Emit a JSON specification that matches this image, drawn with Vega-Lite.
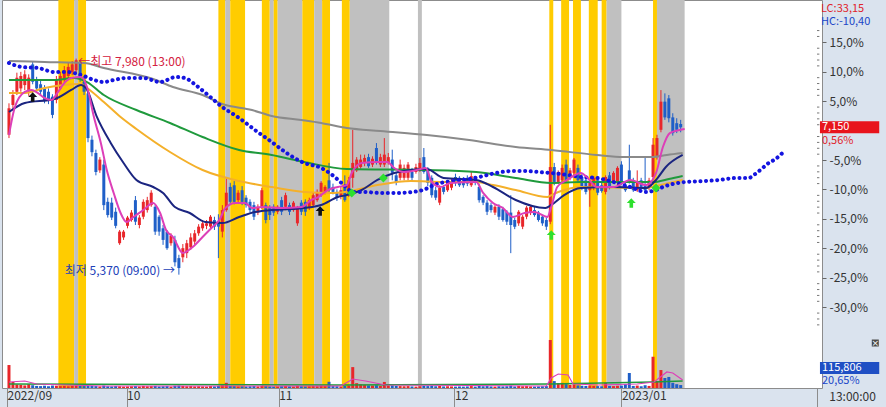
{
"$schema":"https://vega.github.io/schema/vega-lite/v6.json",
"width":820,"height":388,
"autosize":{"type":"none"},
"padding":{"left":2,"top":0,"right":64,"bottom":19},
"background":"#dae3ee",
"config":{"view":{"fill":"#ffffff","stroke":"#8c8c8c","strokeWidth":1},"font":"Noto Sans CJK KR","axis":{"grid":false,"labelFont":"Noto Sans CJK KR"}},
"datasets":{
"bands":[{"a":12.5,"b":16.5,"k":"o"},{"a":16.5,"b":17.5,"k":"g"},{"a":17.5,"b":19.5,"k":"o"},{"a":53,"b":54.75,"k":"o"},{"a":54.75,"b":56,"k":"g"},{"a":56,"b":59.75,"k":"o"},{"a":64,"b":66,"k":"o"},{"a":66,"b":67,"k":"g"},{"a":67,"b":68,"k":"o"},{"a":68,"b":74.25,"k":"g"},{"a":74.25,"b":77.25,"k":"o"},{"a":77.25,"b":79.25,"k":"g"},{"a":79.25,"b":81.25,"k":"o"},{"a":84.25,"b":86.25,"k":"o"},{"a":86.25,"b":96.25,"k":"g"},{"a":103.5,"b":104.5,"k":"g"},{"a":136.75,"b":137.75,"k":"o"},{"a":139.75,"b":141.75,"k":"o"},{"a":142.75,"b":144.75,"k":"o"},{"a":146.75,"b":149,"k":"o"},{"a":150,"b":151.25,"k":"o"},{"a":151.25,"b":155,"k":"g"},{"a":163,"b":164,"k":"o"},{"a":164,"b":171,"k":"g"}],
"candles":[
{"t":0,"o":7060,"h":7440,"l":7020,"c":7380,"v":133000},
{"t":1,"o":7420,"h":7600,"l":7380,"c":7540,"v":35000},
{"t":2,"o":7580,"h":7810,"l":7540,"c":7750,"v":20000},
{"t":3,"o":7620,"h":7820,"l":7580,"c":7770,"v":18000},
{"t":4,"o":7660,"h":7840,"l":7600,"c":7790,"v":15000},
{"t":5,"o":7580,"h":7790,"l":7530,"c":7750,"v":22000},
{"t":6,"o":7910,"h":7940,"l":7670,"c":7700,"v":16000},
{"t":7,"o":7720,"h":7760,"l":7580,"c":7620,"v":12000},
{"t":8,"o":7670,"h":7720,"l":7540,"c":7580,"v":11000},
{"t":9,"o":7620,"h":7660,"l":7440,"c":7480,"v":13000},
{"t":10,"o":7580,"h":7620,"l":7430,"c":7480,"v":10000},
{"t":11,"o":7520,"h":7550,"l":7260,"c":7300,"v":14000},
{"t":12,"o":7480,"h":7770,"l":7440,"c":7720,"v":13000},
{"t":13,"o":7620,"h":7820,"l":7600,"c":7770,"v":11000},
{"t":14,"o":7720,"h":7890,"l":7690,"c":7840,"v":12000},
{"t":15,"o":7770,"h":7930,"l":7730,"c":7880,"v":10000},
{"t":16,"o":7820,"h":7950,"l":7780,"c":7910,"v":12000},
{"t":17,"o":7840,"h":7980,"l":7810,"c":7960,"v":14000},
{"t":18,"o":7940,"h":7960,"l":7700,"c":7750,"v":12000},
{"t":19,"o":7700,"h":7770,"l":7540,"c":7580,"v":11000},
{"t":20,"o":7560,"h":7600,"l":6970,"c":7020,"v":13000},
{"t":21,"o":7000,"h":7050,"l":6800,"c":6850,"v":12000},
{"t":22,"o":6840,"h":6880,"l":6570,"c":6610,"v":11000},
{"t":23,"o":6630,"h":6790,"l":6600,"c":6760,"v":9000},
{"t":24,"o":6700,"h":6760,"l":6150,"c":6210,"v":14000},
{"t":25,"o":6250,"h":6300,"l":6060,"c":6090,"v":10000},
{"t":26,"o":6240,"h":6300,"l":6030,"c":6060,"v":9000},
{"t":27,"o":6130,"h":6180,"l":5930,"c":5960,"v":11000},
{"t":28,"o":5750,"h":5910,"l":5730,"c":5890,"v":10000},
{"t":29,"o":5820,"h":5910,"l":5790,"c":5890,"v":8000},
{"t":30,"o":5960,"h":6080,"l":5930,"c":6060,"v":9000},
{"t":31,"o":6030,"h":6150,"l":6010,"c":6120,"v":10000},
{"t":32,"o":6270,"h":6320,"l":5970,"c":6010,"v":11000},
{"t":33,"o":5970,"h":6090,"l":5930,"c":6060,"v":9000},
{"t":34,"o":6070,"h":6280,"l":6040,"c":6250,"v":12000},
{"t":35,"o":6150,"h":6310,"l":6120,"c":6270,"v":10000},
{"t":36,"o":6210,"h":6390,"l":6190,"c":6360,"v":11000},
{"t":37,"o":6190,"h":6210,"l":5850,"c":5890,"v":12000},
{"t":38,"o":6070,"h":6090,"l":5840,"c":5890,"v":9000},
{"t":39,"o":5930,"h":5970,"l":5730,"c":5790,"v":10000},
{"t":40,"o":5890,"h":5910,"l":5670,"c":5690,"v":11000},
{"t":41,"o":5750,"h":5870,"l":5720,"c":5840,"v":8000},
{"t":42,"o":5790,"h":5840,"l":5470,"c":5520,"v":13000},
{"t":43,"o":5570,"h":5610,"l":5370,"c":5450,"v":14000},
{"t":44,"o":5580,"h":5740,"l":5520,"c":5690,"v":12000},
{"t":45,"o":5630,"h":5790,"l":5570,"c":5750,"v":10000},
{"t":46,"o":5700,"h":5870,"l":5670,"c":5820,"v":11000},
{"t":47,"o":5770,"h":5910,"l":5730,"c":5870,"v":9000},
{"t":48,"o":5870,"h":5980,"l":5840,"c":5950,"v":10000},
{"t":49,"o":5930,"h":6030,"l":5900,"c":5990,"v":9000},
{"t":50,"o":5960,"h":6030,"l":5920,"c":5990,"v":8000},
{"t":51,"o":5950,"h":6090,"l":5920,"c":6070,"v":11000},
{"t":52,"o":6030,"h":6070,"l":5910,"c":5950,"v":9000},
{"t":53,"o":6020,"h":6100,"l":5570,"c":5950,"v":12000},
{"t":54,"o":5890,"h":6210,"l":5820,"c":6150,"v":16000},
{"t":55,"o":6150,"h":6550,"l":6130,"c":6360,"v":30000},
{"t":56,"o":6430,"h":6480,"l":6210,"c":6250,"v":12000},
{"t":57,"o":6450,"h":6500,"l":6220,"c":6250,"v":11000},
{"t":58,"o":6270,"h":6390,"l":6240,"c":6360,"v":9000},
{"t":59,"o":6390,"h":6440,"l":6210,"c":6250,"v":10000},
{"t":60,"o":6300,"h":6330,"l":6180,"c":6210,"v":9000},
{"t":61,"o":6250,"h":6280,"l":6120,"c":6150,"v":10000},
{"t":62,"o":6210,"h":6250,"l":6030,"c":6070,"v":11000},
{"t":63,"o":6120,"h":6220,"l":6090,"c":6190,"v":9000},
{"t":64,"o":6190,"h":6420,"l":6160,"c":6390,"v":13000},
{"t":65,"o":6210,"h":6240,"l":5990,"c":6030,"v":11000},
{"t":66,"o":6180,"h":6210,"l":6030,"c":6090,"v":9000},
{"t":67,"o":6190,"h":6220,"l":6080,"c":6120,"v":8000},
{"t":68,"o":6130,"h":6210,"l":6100,"c":6190,"v":9000},
{"t":69,"o":6270,"h":6310,"l":6090,"c":6130,"v":10000},
{"t":70,"o":6190,"h":6360,"l":6150,"c":6330,"v":11000},
{"t":71,"o":6210,"h":6240,"l":6090,"c":6130,"v":9000},
{"t":72,"o":6150,"h":6260,"l":6130,"c":6240,"v":8000},
{"t":73,"o":5990,"h":6200,"l":5960,"c":6180,"v":12000},
{"t":74,"o":6240,"h":6270,"l":6090,"c":6130,"v":10000},
{"t":75,"o":6250,"h":6280,"l":6080,"c":6130,"v":9000},
{"t":76,"o":6180,"h":6300,"l":6150,"c":6270,"v":10000},
{"t":77,"o":6210,"h":6360,"l":6190,"c":6330,"v":11000},
{"t":78,"o":6270,"h":6400,"l":6250,"c":6370,"v":10000},
{"t":79,"o":6330,"h":6500,"l":6310,"c":6480,"v":14000},
{"t":80,"o":6370,"h":6450,"l":6340,"c":6430,"v":12000},
{"t":81,"o":6510,"h":6720,"l":6370,"c":6390,"v":36000},
{"t":82,"o":6430,"h":6470,"l":6340,"c":6370,"v":11000},
{"t":83,"o":6370,"h":6400,"l":6260,"c":6300,"v":10000},
{"t":84,"o":6310,"h":6430,"l":6280,"c":6390,"v":9000},
{"t":85,"o":6450,"h":6570,"l":6250,"c":6270,"v":12000},
{"t":86,"o":6330,"h":6550,"l":6310,"c":6510,"v":14000},
{"t":87,"o":6540,"h":7120,"l":6420,"c":6720,"v":121000},
{"t":88,"o":6630,"h":6790,"l":6610,"c":6760,"v":28000},
{"t":89,"o":6670,"h":6820,"l":6650,"c":6760,"v":22000},
{"t":90,"o":6720,"h":6820,"l":6680,"c":6780,"v":18000},
{"t":91,"o":6790,"h":6830,"l":6660,"c":6680,"v":15000},
{"t":92,"o":6700,"h":6800,"l":6670,"c":6770,"v":14000},
{"t":93,"o":6900,"h":6960,"l":6700,"c":6720,"v":16000},
{"t":94,"o":6700,"h":6830,"l":6670,"c":6790,"v":12000},
{"t":95,"o":6700,"h":7020,"l":6670,"c":6820,"v":35000},
{"t":96,"o":6720,"h":6840,"l":6700,"c":6790,"v":14000},
{"t":97,"o":6760,"h":6880,"l":6510,"c":6600,"v":15000},
{"t":98,"o":6570,"h":6610,"l":6450,"c":6490,"v":12000},
{"t":99,"o":6540,"h":6760,"l":6510,"c":6700,"v":11000},
{"t":100,"o":6540,"h":6700,"l":6510,"c":6660,"v":10000},
{"t":101,"o":6540,"h":6730,"l":6510,"c":6700,"v":11000},
{"t":102,"o":6610,"h":6660,"l":6510,"c":6540,"v":9000},
{"t":103,"o":6610,"h":6710,"l":6590,"c":6670,"v":8000},
{"t":104,"o":6630,"h":6780,"l":6610,"c":6720,"v":10000},
{"t":105,"o":6790,"h":6900,"l":6590,"c":6610,"v":12000},
{"t":106,"o":6630,"h":6670,"l":6440,"c":6480,"v":11000},
{"t":107,"o":6540,"h":6570,"l":6300,"c":6330,"v":13000},
{"t":108,"o":6390,"h":6430,"l":6270,"c":6300,"v":10000},
{"t":109,"o":6240,"h":6450,"l":6210,"c":6420,"v":12000},
{"t":110,"o":6430,"h":6450,"l":6340,"c":6370,"v":9000},
{"t":111,"o":6390,"h":6500,"l":6370,"c":6480,"v":10000},
{"t":112,"o":6420,"h":6530,"l":6390,"c":6490,"v":9000},
{"t":113,"o":6550,"h":6590,"l":6440,"c":6480,"v":8000},
{"t":114,"o":6540,"h":6560,"l":6430,"c":6450,"v":9000},
{"t":115,"o":6510,"h":6550,"l":6420,"c":6450,"v":8000},
{"t":116,"o":6540,"h":6570,"l":6440,"c":6470,"v":9000},
{"t":117,"o":6450,"h":6610,"l":6430,"c":6560,"v":11000},
{"t":118,"o":6540,"h":6560,"l":6450,"c":6480,"v":8000},
{"t":119,"o":6430,"h":6470,"l":6240,"c":6270,"v":12000},
{"t":120,"o":6310,"h":6330,"l":6210,"c":6240,"v":10000},
{"t":121,"o":6240,"h":6270,"l":6090,"c":6130,"v":11000},
{"t":122,"o":6210,"h":6240,"l":6120,"c":6150,"v":9000},
{"t":123,"o":6120,"h":6210,"l":6090,"c":6190,"v":8000},
{"t":124,"o":6190,"h":6220,"l":6030,"c":6070,"v":10000},
{"t":125,"o":6160,"h":6190,"l":6010,"c":6030,"v":9000},
{"t":126,"o":6130,"h":6150,"l":5970,"c":6010,"v":10000},
{"t":127,"o":6120,"h":6330,"l":5630,"c":5970,"v":14000},
{"t":128,"o":6030,"h":6060,"l":5920,"c":5950,"v":9000},
{"t":129,"o":5990,"h":6150,"l":5960,"c":6130,"v":12000},
{"t":130,"o":5950,"h":6090,"l":5920,"c":6070,"v":10000},
{"t":131,"o":6070,"h":6200,"l":6040,"c":6180,"v":11000},
{"t":132,"o":6120,"h":6210,"l":6090,"c":6190,"v":9000},
{"t":133,"o":6150,"h":6190,"l":6070,"c":6090,"v":8000},
{"t":134,"o":6120,"h":6140,"l":6010,"c":6030,"v":9000},
{"t":135,"o":6070,"h":6090,"l":5960,"c":5990,"v":10000},
{"t":136,"o":6030,"h":6060,"l":5910,"c":5950,"v":11000},
{"t":137,"o":6010,"h":7180,"l":5980,"c":6670,"v":278000},
{"t":138,"o":6670,"h":6720,"l":6450,"c":6490,"v":40000},
{"t":139,"o":6490,"h":6630,"l":6470,"c":6610,"v":28000},
{"t":140,"o":6510,"h":6700,"l":6490,"c":6660,"v":30000},
{"t":141,"o":6700,"h":6760,"l":6490,"c":6510,"v":22000},
{"t":142,"o":6540,"h":6660,"l":6510,"c":6630,"v":18000},
{"t":143,"o":6600,"h":6780,"l":6570,"c":6760,"v":20000},
{"t":144,"o":6660,"h":6700,"l":6480,"c":6510,"v":15000},
{"t":145,"o":6550,"h":6590,"l":6390,"c":6420,"v":13000},
{"t":146,"o":6510,"h":6540,"l":6340,"c":6370,"v":12000},
{"t":147,"o":6390,"h":6500,"l":6190,"c":6480,"v":14000},
{"t":148,"o":6420,"h":6560,"l":6390,"c":6540,"v":12000},
{"t":149,"o":6510,"h":6550,"l":6330,"c":6360,"v":11000},
{"t":150,"o":6450,"h":6480,"l":6360,"c":6380,"v":10000},
{"t":151,"o":6370,"h":6570,"l":6340,"c":6550,"v":30000},
{"t":152,"o":6570,"h":6610,"l":6400,"c":6430,"v":12000},
{"t":153,"o":6500,"h":6620,"l":6480,"c":6600,"v":11000},
{"t":154,"o":6480,"h":6680,"l":6450,"c":6660,"v":13000},
{"t":155,"o":6700,"h":6740,"l":6450,"c":6480,"v":14000},
{"t":156,"o":6450,"h":6480,"l":6370,"c":6390,"v":22000},
{"t":157,"o":6630,"h":6940,"l":6470,"c":6490,"v":87000},
{"t":158,"o":6510,"h":6540,"l":6370,"c":6390,"v":12000},
{"t":159,"o":6390,"h":6630,"l":6370,"c":6480,"v":14000},
{"t":160,"o":6510,"h":6540,"l":6400,"c":6430,"v":10000},
{"t":161,"o":6450,"h":6790,"l":6370,"c":6390,"v":16000},
{"t":162,"o":6420,"h":6540,"l":6390,"c":6510,"v":12000},
{"t":163,"o":6550,"h":7020,"l":6510,"c":6940,"v":181000},
{"t":164,"o":6790,"h":7060,"l":6760,"c":7020,"v":40000},
{"t":165,"o":7120,"h":7600,"l":7090,"c":7460,"v":104000},
{"t":166,"o":7460,"h":7560,"l":7240,"c":7270,"v":58000},
{"t":167,"o":7500,"h":7540,"l":7210,"c":7260,"v":64000},
{"t":168,"o":7270,"h":7320,"l":7050,"c":7080,"v":30000},
{"t":169,"o":7200,"h":7260,"l":7080,"c":7120,"v":22000},
{"t":170,"o":7190,"h":7240,"l":7090,"c":7150,"v":17000}],
"maGray":[{"t":0,"p":7951},{"t":9,"p":7939},{"t":19,"p":7927},{"t":24,"p":7867},{"t":36.5,"p":7734},{"t":41.5,"p":7637},{"t":49,"p":7540},{"t":54,"p":7432},{"t":61.5,"p":7359},{"t":66.5,"p":7287},{"t":74,"p":7238},{"t":79,"p":7202},{"t":85.5,"p":7142},{"t":94,"p":7105},{"t":105.75,"p":7057},{"t":116.5,"p":6997},{"t":128.25,"p":6912},{"t":137.25,"p":6876},{"t":148.75,"p":6816},{"t":155.5,"p":6791},{"t":163,"p":6791},{"t":166.5,"p":6816},{"t":170.5,"p":6840}],
"maGreen":[{"t":0,"p":7722},{"t":11.5,"p":7722},{"t":16.5,"p":7746},{"t":19.75,"p":7697},{"t":24,"p":7540},{"t":32.25,"p":7359},{"t":40.75,"p":7202},{"t":49,"p":7033},{"t":58.25,"p":6876},{"t":66.5,"p":6816},{"t":74.75,"p":6731},{"t":85.5,"p":6647},{"t":105.75,"p":6634},{"t":118.25,"p":6610},{"t":128.25,"p":6538},{"t":137.25,"p":6477},{"t":144.75,"p":6489},{"t":163,"p":6489},{"t":167,"p":6526},{"t":170.5,"p":6562}],
"maOrange":[{"t":0,"p":7565},{"t":4,"p":7565},{"t":9,"p":7625},{"t":18.25,"p":7673},{"t":19.75,"p":7625},{"t":24,"p":7456},{"t":28.25,"p":7275},{"t":32.25,"p":7130},{"t":40.75,"p":6852},{"t":49,"p":6634},{"t":58.25,"p":6501},{"t":66.5,"p":6429},{"t":74.75,"p":6369},{"t":81.5,"p":6357},{"t":85,"p":6369},{"t":93.25,"p":6453},{"t":101.75,"p":6501},{"t":110,"p":6489},{"t":118.25,"p":6489},{"t":122.5,"p":6453},{"t":128.25,"p":6393},{"t":136.25,"p":6308},{"t":137.25,"p":6332},{"t":140.5,"p":6393},{"t":144.75,"p":6429},{"t":161.25,"p":6417},{"t":163.75,"p":6441},{"t":170.5,"p":6514}],
"maNavy":[{"t":0,"p":7335},{"t":4,"p":7444},{"t":11.5,"p":7492},{"t":15.75,"p":7601},{"t":18.25,"p":7661},{"t":19.5,"p":7625},{"t":22.25,"p":7275},{"t":25.75,"p":6961},{"t":29,"p":6719},{"t":32.25,"p":6514},{"t":36.5,"p":6429},{"t":39,"p":6357},{"t":42,"p":6187},{"t":45.75,"p":6115},{"t":49.75,"p":6006},{"t":54,"p":5994},{"t":58.25,"p":6067},{"t":62.25,"p":6127},{"t":66.5,"p":6151},{"t":74.75,"p":6175},{"t":79,"p":6212},{"t":83.25,"p":6308},{"t":85.5,"p":6332},{"t":89.25,"p":6393},{"t":93.25,"p":6514},{"t":97.5,"p":6598},{"t":101.75,"p":6634},{"t":105.75,"p":6646},{"t":110,"p":6538},{"t":118.25,"p":6514},{"t":122.5,"p":6429},{"t":128.25,"p":6272},{"t":135.75,"p":6175},{"t":137.25,"p":6212},{"t":140.5,"p":6332},{"t":144.75,"p":6417},{"t":153,"p":6429},{"t":161.25,"p":6417},{"t":163.75,"p":6514},{"t":166.25,"p":6671},{"t":170.5,"p":6816}],
"maMag":[{"t":0,"p":7057},{"t":1.5,"p":7395},{"t":4,"p":7577},{"t":5.75,"p":7601},{"t":7.25,"p":7565},{"t":9,"p":7504},{"t":10.75,"p":7480},{"t":12.25,"p":7565},{"t":14,"p":7685},{"t":15.75,"p":7746},{"t":18.25,"p":7758},{"t":19.75,"p":7637},{"t":21.5,"p":7275},{"t":23.25,"p":6961},{"t":24.75,"p":6634},{"t":26.5,"p":6357},{"t":28.25,"p":6115},{"t":29.75,"p":6006},{"t":31.5,"p":6067},{"t":34,"p":6151},{"t":36.5,"p":6236},{"t":38.25,"p":6115},{"t":39.75,"p":5910},{"t":41.5,"p":5825},{"t":44,"p":5632},{"t":46.5,"p":5704},{"t":49,"p":5825},{"t":51.5,"p":5946},{"t":53.25,"p":6030},{"t":54.75,"p":6175},{"t":57.25,"p":6236},{"t":59.75,"p":6236},{"t":61.5,"p":6175},{"t":64,"p":6187},{"t":69,"p":6175},{"t":74,"p":6187},{"t":76.5,"p":6272},{"t":78.25,"p":6308},{"t":80.75,"p":6393},{"t":83.25,"p":6429},{"t":85.5,"p":6453},{"t":86.75,"p":6598},{"t":89.25,"p":6719},{"t":93.25,"p":6731},{"t":95.75,"p":6731},{"t":97.5,"p":6659},{"t":100,"p":6610},{"t":103.25,"p":6634},{"t":105.5,"p":6659},{"t":107,"p":6489},{"t":109.25,"p":6429},{"t":111.75,"p":6477},{"t":118.25,"p":6489},{"t":120,"p":6357},{"t":122.5,"p":6236},{"t":125,"p":6175},{"t":127.5,"p":6067},{"t":130.5,"p":6115},{"t":133,"p":6127},{"t":136.25,"p":6067},{"t":137.25,"p":6187},{"t":138.75,"p":6429},{"t":141.25,"p":6514},{"t":144.75,"p":6598},{"t":146.25,"p":6550},{"t":148.75,"p":6429},{"t":153,"p":6429},{"t":157.25,"p":6514},{"t":161.25,"p":6453},{"t":163.75,"p":6598},{"t":165.5,"p":6912},{"t":167.25,"p":7081},{"t":169.75,"p":7118},{"t":171,"p":7130}],
"ichi":[{"t":0,"p":7927},{"t":3.25,"p":7879},{"t":7.25,"p":7867},{"t":11.5,"p":7818},{"t":14.75,"p":7818},{"t":18.25,"p":7782},{"t":21.5,"p":7722},{"t":24,"p":7697},{"t":26.5,"p":7722},{"t":29.75,"p":7746},{"t":34,"p":7746},{"t":38.25,"p":7697},{"t":42.25,"p":7758},{"t":44.5,"p":7746},{"t":47.25,"p":7661},{"t":49.75,"p":7565},{"t":54,"p":7395},{"t":58.25,"p":7263},{"t":62.25,"p":7118},{"t":66.5,"p":6973},{"t":70.25,"p":6840},{"t":74.75,"p":6719},{"t":79,"p":6659},{"t":81.5,"p":6586},{"t":84.75,"p":6453},{"t":87,"p":6369},{"t":89.75,"p":6369},{"t":94,"p":6357},{"t":98.25,"p":6357},{"t":102.25,"p":6369},{"t":104.75,"p":6393},{"t":108.25,"p":6465},{"t":112.25,"p":6501},{"t":116.5,"p":6526},{"t":119,"p":6550},{"t":123.25,"p":6598},{"t":127.25,"p":6622},{"t":130.75,"p":6622},{"t":134,"p":6610},{"t":137.25,"p":6598},{"t":141.5,"p":6574},{"t":144.75,"p":6550},{"t":148.75,"p":6538},{"t":153,"p":6489},{"t":157.25,"p":6429},{"t":161.25,"p":6369},{"t":163.75,"p":6393},{"t":165.5,"p":6429},{"t":168,"p":6465},{"t":171,"p":6489},{"t":175.75,"p":6501},{"t":179.75,"p":6514},{"t":184,"p":6538},{"t":187.25,"p":6538},{"t":188.5,"p":6574},{"t":190.75,"p":6659},{"t":192.25,"p":6719},{"t":194,"p":6767},{"t":195.75,"p":6840}],
"upArrows":[{"t":6,"p":7516,"k":"b"},{"t":78.75,"p":6139,"k":"b"},{"t":137.25,"p":5849,"k":"g"},{"t":157.5,"p":6236,"k":"g"}],
"diamonds":[{"t":86.75,"p":6357},{"t":94.75,"p":6538},{"t":163.75,"p":6417}],
"hiNote":[{"t":17,"p":7935,"txt":"←최고 7,980 (13:00)"}],
"loNote":[{"t":42,"p":5415,"txt":"최저 5,370 (09:00) →"}],
"minorTicks":[{"p":4763.7},{"p":4834.8},{"p":4905.9},{"p":5048.1},{"p":5119.2},{"p":5190.3},{"p":5261.4},{"p":5403.6},{"p":5474.7},{"p":5545.8},{"p":5616.9},{"p":5759.1},{"p":5830.2},{"p":5901.3},{"p":5972.4},{"p":6114.6},{"p":6185.7},{"p":6256.8},{"p":6327.9},{"p":6470.1},{"p":6541.2},{"p":6612.3},{"p":6683.4},{"p":6825.6},{"p":6896.7},{"p":6967.8},{"p":7038.9},{"p":7181.1},{"p":7252.2},{"p":7323.3},{"p":7394.4},{"p":7536.6},{"p":7607.7},{"p":7678.8},{"p":7749.9},{"p":7892.1},{"p":7963.2},{"p":8034.3},{"p":8105.4},{"p":8247.6},{"p":8318.7}],
"rBox":[{"t":205.25,"t2":220.25,"p":7078,"p2":7222}],
"rText":[{"t":205.5,"p":8582,"txt":"LC:33,15","k":"r"},{"t":205.5,"p":8422,"txt":"HC:-10,40","k":"b"},{"t":205.75,"p":7150,"txt":"7,150","k":"w"},{"t":205.75,"p":6988,"txt":"0,56%","k":"r"}],
"vmaM":[{"t":0,"v":34700},{"t":4,"v":40500},{"t":7,"v":23200},{"t":14,"v":17400},{"t":24,"v":11600},{"t":84,"v":11600},{"t":87,"v":52100},{"t":90.25,"v":40500},{"t":95.25,"v":17400},{"t":136,"v":11600},{"t":137.25,"v":57900},{"t":139,"v":81100},{"t":141.5,"v":75300},{"t":142.75,"v":23200},{"t":149,"v":17400},{"t":159,"v":23200},{"t":163.25,"v":34700},{"t":166.5,"v":92600},{"t":168,"v":86900},{"t":170.5,"v":46300}],
"vmaG":[{"t":0,"v":23200},{"t":84,"v":17400},{"t":137,"v":23200},{"t":150,"v":28900},{"t":163,"v":34700},{"t":170.5,"v":40500}],
"vBox":[{"t":205.25,"t2":220.25,"v":81060,"v2":150540}],
"vText":[{"t":205.75,"v":115806,"txt":"115,806","k":"w"},{"t":205.75,"v":42000,"txt":"20,65%","k":"b"}],
"icon":[{"t":219.25,"v":260500,"txt":"×"}],
"timeLabel":[{"t":213.5,"v":-52110,"txt":"13:00:00"}]
},
"layer":[
{"data":{"name":"bands"},"mark":{"type":"rect"},
 "encoding":{
  "x":{"field":"a","type":"quantitative","title":null,"scale":{"domain":[-0.5,204.5],"nice":false,"zero":false},
   "axis":{"orient":"bottom","values":[-0.5,29.75,68.25,112.75,155,204.5],
    "labelExpr":"datum.value < 0 ? '2022/09' : datum.value < 40 ? '10' : datum.value < 80 ? '11' : datum.value < 120 ? '12' : datum.value < 200 ? '2023/01' : ''",
    "domain":false,"tickSize":19,"tickColor":"#8c8c8c","labelAlign":"left","labelBaseline":"top","labelPadding":-17,"labelDx":1,"labelFontSize":12,"labelColor":"#333333","labelOverlap":false,"labelBound":false,"labelFlush":false}},
  "x2":{"field":"b"},
  "color":{"field":"k","type":"nominal","scale":{"domain":["o","g"],"range":["#ffcc00","#c0c0c0"]},"legend":null}}},
{"data":{"name":"candles"},"mark":{"type":"rule","strokeWidth":1},
 "encoding":{
  "x":{"field":"t","type":"quantitative","title":null,"scale":{"domain":[-0.5,204.5],"nice":false,"zero":false},"axis":null},
  "y":{"field":"l","type":"quantitative","title":null,"scale":{"domain":[4001,8688],"nice":false,"zero":false},
   "axis":{"orient":"right","values":[8176.5,7821,7465.5,6754.5,6399,6043.5,5688,5332.5,4977],
    "labelExpr":"replace(replace(format((datum.value/7110-1)*100, '.1f'), '.', ','), '\u2212', '-') + '%'",
    "domain":false,"tickSize":4,"tickColor":"#666666","labelPadding":3,"labelFontSize":12,"labelColor":"#333333","labelOverlap":false,"labelBound":false,"labelFlush":false}},
  "y2":{"field":"h"},
  "color":{"condition":{"test":"datum.c >= datum.o","value":"#e8262a"},"value":"#1f5fc8"}}},
{"data":{"name":"candles"},"mark":{"type":"bar","width":3},
 "encoding":{
  "x":{"field":"t","type":"quantitative","title":null,"scale":{"domain":[-0.5,204.5],"nice":false,"zero":false},"axis":null},
  "y":{"field":"o","type":"quantitative","title":null,"scale":{"domain":[4001,8688],"nice":false,"zero":false},"axis":null},
  "y2":{"field":"c"},
  "color":{"condition":{"test":"datum.c >= datum.o","value":"#e8262a"},"value":"#1f5fc8"}}},
{"data":{"name":"maGray"},"mark":{"type":"line","color":"#8a8a8a","strokeWidth":2,"interpolate":"monotone"},
 "encoding":{"x":{"field":"t","type":"quantitative","title":null,"scale":{"domain":[-0.5,204.5],"nice":false,"zero":false},"axis":null},
  "y":{"field":"p","type":"quantitative","title":null,"scale":{"domain":[4001,8688],"nice":false,"zero":false},"axis":null}}},
{"data":{"name":"maGreen"},"mark":{"type":"line","color":"#1f9a3c","strokeWidth":2,"interpolate":"monotone"},
 "encoding":{"x":{"field":"t","type":"quantitative","title":null,"scale":{"domain":[-0.5,204.5],"nice":false,"zero":false},"axis":null},
  "y":{"field":"p","type":"quantitative","title":null,"scale":{"domain":[4001,8688],"nice":false,"zero":false},"axis":null}}},
{"data":{"name":"maOrange"},"mark":{"type":"line","color":"#f4b02a","strokeWidth":2,"interpolate":"monotone"},
 "encoding":{"x":{"field":"t","type":"quantitative","title":null,"scale":{"domain":[-0.5,204.5],"nice":false,"zero":false},"axis":null},
  "y":{"field":"p","type":"quantitative","title":null,"scale":{"domain":[4001,8688],"nice":false,"zero":false},"axis":null}}},
{"data":{"name":"maNavy"},"mark":{"type":"line","color":"#1b2580","strokeWidth":2,"interpolate":"monotone"},
 "encoding":{"x":{"field":"t","type":"quantitative","title":null,"scale":{"domain":[-0.5,204.5],"nice":false,"zero":false},"axis":null},
  "y":{"field":"p","type":"quantitative","title":null,"scale":{"domain":[4001,8688],"nice":false,"zero":false},"axis":null}}},
{"data":{"name":"ichi"},"mark":{"type":"line","color":"#1414e0","strokeWidth":4,"strokeDash":[0.1,5.5],"strokeCap":"round","interpolate":"monotone"},
 "encoding":{"x":{"field":"t","type":"quantitative","title":null,"scale":{"domain":[-0.5,204.5],"nice":false,"zero":false},"axis":null},
  "y":{"field":"p","type":"quantitative","title":null,"scale":{"domain":[4001,8688],"nice":false,"zero":false},"axis":null}}},
{"data":{"name":"maMag"},"mark":{"type":"line","color":"#dd3fb8","strokeWidth":2,"interpolate":"monotone"},
 "encoding":{"x":{"field":"t","type":"quantitative","title":null,"scale":{"domain":[-0.5,204.5],"nice":false,"zero":false},"axis":null},
  "y":{"field":"p","type":"quantitative","title":null,"scale":{"domain":[4001,8688],"nice":false,"zero":false},"axis":null}}},
{"data":{"name":"upArrows"},"mark":{"type":"point","filled":true,"size":90,"opacity":1,"shape":"M0,-1L0.95,0L0.38,0L0.38,1L-0.38,1L-0.38,0L-0.95,0Z"},
 "encoding":{"x":{"field":"t","type":"quantitative","title":null,"scale":{"domain":[-0.5,204.5],"nice":false,"zero":false},"axis":null},
  "y":{"field":"p","type":"quantitative","title":null,"scale":{"domain":[4001,8688],"nice":false,"zero":false},"axis":null},
  "color":{"condition":{"test":"datum.k === 'b'","value":"#111111"},"value":"#2ee02e"}}},
{"data":{"name":"diamonds"},"mark":{"type":"point","filled":true,"size":80,"opacity":1,"shape":"diamond","color":"#2ee02e"},
 "encoding":{"x":{"field":"t","type":"quantitative","title":null,"scale":{"domain":[-0.5,204.5],"nice":false,"zero":false},"axis":null},
  "y":{"field":"p","type":"quantitative","title":null,"scale":{"domain":[4001,8688],"nice":false,"zero":false},"axis":null}}},
{"mark":{"type":"rule","color":"#8c8c8c","strokeWidth":1},
 "encoding":{"y":{"datum":4641,"type":"quantitative","scale":{"domain":[4001,8688],"nice":false,"zero":false},"axis":null}}},
{"data":{"name":"minorTicks"},"mark":{"type":"rule","color":"#777777","strokeWidth":1},
 "encoding":{"x":{"datum":204.5,"type":"quantitative","scale":{"domain":[-0.5,204.5],"nice":false,"zero":false},"axis":null},
  "x2":{"datum":205.1},
  "y":{"field":"p","type":"quantitative","title":null,"scale":{"domain":[4001,8688],"nice":false,"zero":false},"axis":null}}},
{"data":{"name":"hiNote"},"mark":{"type":"text","align":"left","baseline":"middle","dx":2,"fontSize":12,"color":"#d42040","font":"Noto Sans CJK KR"},
 "encoding":{"x":{"field":"t","type":"quantitative","title":null,"scale":{"domain":[-0.5,204.5],"nice":false,"zero":false},"axis":null},
  "y":{"field":"p","type":"quantitative","title":null,"scale":{"domain":[4001,8688],"nice":false,"zero":false},"axis":null},
  "text":{"field":"txt"}}},
{"data":{"name":"loNote"},"mark":{"type":"text","align":"right","baseline":"middle","dx":0,"fontSize":12,"color":"#2040b8","font":"Noto Sans CJK KR"},
 "encoding":{"x":{"field":"t","type":"quantitative","title":null,"scale":{"domain":[-0.5,204.5],"nice":false,"zero":false},"axis":null},
  "y":{"field":"p","type":"quantitative","title":null,"scale":{"domain":[4001,8688],"nice":false,"zero":false},"axis":null},
  "text":{"field":"txt"}}},
{"data":{"name":"rBox"},"mark":{"type":"rect","color":"#e8141c"},
 "encoding":{"x":{"field":"t","type":"quantitative","title":null,"scale":{"domain":[-0.5,204.5],"nice":false,"zero":false},"axis":null},
  "x2":{"field":"t2"},
  "y":{"field":"p","type":"quantitative","title":null,"scale":{"domain":[4001,8688],"nice":false,"zero":false},"axis":null},
  "y2":{"field":"p2"}}},
{"data":{"name":"rText"},"mark":{"type":"text","align":"left","baseline":"middle","fontSize":11,"font":"Noto Sans CJK KR"},
 "encoding":{"x":{"field":"t","type":"quantitative","title":null,"scale":{"domain":[-0.5,204.5],"nice":false,"zero":false},"axis":null},
  "y":{"field":"p","type":"quantitative","title":null,"scale":{"domain":[4001,8688],"nice":false,"zero":false},"axis":null},
  "text":{"field":"txt"},
  "color":{"condition":[{"test":"datum.k === 'r'","value":"#e0242c"},{"test":"datum.k === 'b'","value":"#2046c8"}],"value":"#ffffff"}}},
{"data":{"name":"candles"},"mark":{"type":"bar","width":3},
 "encoding":{"x":{"field":"t","type":"quantitative","title":null,"scale":{"domain":[-0.5,204.5],"nice":false,"zero":false},"axis":null},
  "y":{"field":"v","type":"quantitative","title":null,"scale":{"domain":[0,2246520],"nice":false},"axis":null},
  "color":{"condition":{"test":"datum.c >= datum.o","value":"#e8262a"},"value":"#1f5fc8"}}},
{"data":{"name":"vmaG"},"mark":{"type":"line","color":"#1f9a3c","strokeWidth":1.5},
 "encoding":{"x":{"field":"t","type":"quantitative","title":null,"scale":{"domain":[-0.5,204.5],"nice":false,"zero":false},"axis":null},
  "y":{"field":"v","type":"quantitative","title":null,"scale":{"domain":[0,2246520],"nice":false},"axis":null}}},
{"data":{"name":"vmaM"},"mark":{"type":"line","color":"#dd3fb8","strokeWidth":1.2},
 "encoding":{"x":{"field":"t","type":"quantitative","title":null,"scale":{"domain":[-0.5,204.5],"nice":false,"zero":false},"axis":null},
  "y":{"field":"v","type":"quantitative","title":null,"scale":{"domain":[0,2246520],"nice":false},"axis":null}}},
{"data":{"name":"vBox"},"mark":{"type":"rect","color":"#1f4fc4"},
 "encoding":{"x":{"field":"t","type":"quantitative","title":null,"scale":{"domain":[-0.5,204.5],"nice":false,"zero":false},"axis":null},
  "x2":{"field":"t2"},
  "y":{"field":"v","type":"quantitative","title":null,"scale":{"domain":[0,2246520],"nice":false},"axis":null},
  "y2":{"field":"v2"}}},
{"data":{"name":"vText"},"mark":{"type":"text","align":"left","baseline":"middle","fontSize":11,"font":"Noto Sans CJK KR"},
 "encoding":{"x":{"field":"t","type":"quantitative","title":null,"scale":{"domain":[-0.5,204.5],"nice":false,"zero":false},"axis":null},
  "y":{"field":"v","type":"quantitative","title":null,"scale":{"domain":[0,2246520],"nice":false},"axis":null},
  "text":{"field":"txt"},
  "color":{"condition":{"test":"datum.k === 'b'","value":"#2046c8"},"value":"#ffffff"}}},
{"data":{"name":"icon"},"mark":{"type":"square","size":49,"color":"#4a4a4a","opacity":1},
 "encoding":{"x":{"field":"t","type":"quantitative","title":null,"scale":{"domain":[-0.5,204.5],"nice":false,"zero":false},"axis":null},
  "y":{"field":"v","type":"quantitative","title":null,"scale":{"domain":[0,2246520],"nice":false},"axis":null}}},
{"data":{"name":"icon"},"mark":{"type":"text","align":"center","baseline":"middle","fontSize":9,"color":"#ffffff","font":"DejaVu Sans"},
 "encoding":{"x":{"field":"t","type":"quantitative","title":null,"scale":{"domain":[-0.5,204.5],"nice":false,"zero":false},"axis":null},
  "y":{"field":"v","type":"quantitative","title":null,"scale":{"domain":[0,2246520],"nice":false},"axis":null},
  "text":{"field":"txt"}}},
{"data":{"name":"timeLabel"},"mark":{"type":"text","align":"center","baseline":"middle","fontSize":12,"color":"#333333","font":"Noto Sans CJK KR"},
 "encoding":{"x":{"field":"t","type":"quantitative","title":null,"scale":{"domain":[-0.5,204.5],"nice":false,"zero":false},"axis":null},
  "y":{"field":"v","type":"quantitative","title":null,"scale":{"domain":[0,2246520],"nice":false},"axis":null},
  "text":{"field":"txt"}}}
],
"resolve":{"scale":{"y":"independent"},"axis":{"x":"independent"}}
}
